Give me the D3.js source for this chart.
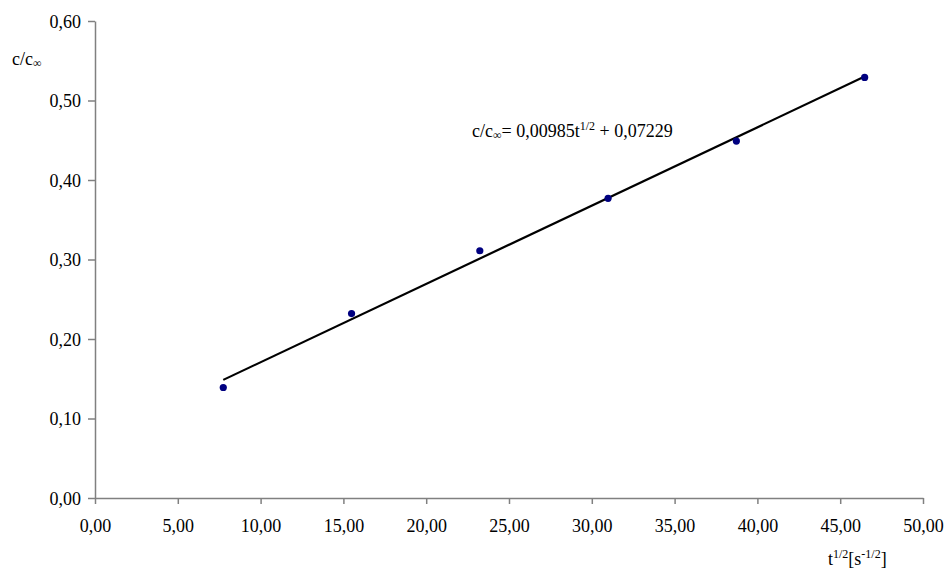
<!DOCTYPE html>
<html>
<head>
<meta charset="utf-8">
<script src="https://cdn.jsdelivr.net/npm/d3@7"></script>
</head>
<body style="margin:0; background:#fff">
<div id="chart"></div>
<script>
const width = 949
const height = 568

// sqrt(t) values and measured c/c_inf
const xValues = [7.746, 15.492, 23.238, 30.984, 38.730, 46.476]
const yValues = [0.139, 0.232, 0.311, 0.377, 0.449, 0.529]
const xTicks = [0, 5, 10, 15, 20, 25, 30, 35, 40, 45, 50]
const yTicks = [0, 0.1, 0.2, 0.3, 0.4, 0.5, 0.6]
const slope = 0.00985
const intercept = 0.07229

const margin = { top: 21, right: 25, bottom: 70, left: 95 }
const serif = '"Liberation Serif", "Times New Roman", serif'

const fmt = d => d.toFixed(2).replace('.', ',')

const svg = d3.select('#chart')
  .append('svg')
  .attr('width', width)
  .attr('height', height)
  .style('font-family', serif)

const x = d3.scaleLinear()
  .domain([0, 50])
  .range([margin.left, 923])

const y = d3.scaleLinear()
  .domain([0, 0.6])
  .range([498, margin.top])

const xAxis = svg.append('g')
  .attr('transform', `translate(0,${y(0)})`)
  .call(d3.axisBottom(x).tickValues(xTicks).tickFormat(fmt).tickSize(6).tickSizeOuter(0))

const yAxis = svg.append('g')
  .attr('transform', `translate(${x(0)},0)`)
  .call(d3.axisLeft(y).tickValues(yTicks).tickFormat(fmt).tickSize(7).tickSizeOuter(0))

// drop the axis defaults (sans-serif, 10px)
xAxis.attr('font-family', serif).attr('font-size', 18)
yAxis.attr('font-family', serif).attr('font-size', 18)
xAxis.selectAll('text').attr('dy', null).attr('y', 34)
yAxis.selectAll('text').attr('x', -14).attr('dy', '0.35em')

svg.selectAll('.domain, .tick line')
  .attr('stroke', '#808080')
  .attr('stroke-width', 1.5)

// trend line
const x0 = d3.min(xValues)
const x1 = d3.max(xValues)
svg.append('line')
  .attr('x1', x(x0))
  .attr('y1', y(slope * x0 + intercept))
  .attr('x2', x(x1))
  .attr('y2', y(slope * x1 + intercept))
  .attr('stroke', '#000')
  .attr('stroke-width', 2.2)

// points
svg.selectAll('circle')
  .data(xValues)
  .enter()
  .append('circle')
  .attr('cx', d => x(d))
  .attr('cy', (d, i) => y(yValues[i]))
  .attr('r', 3.6)
  .attr('fill', '#000080')

// y title
const yt = svg.append('text')
  .attr('x', 12)
  .attr('y', 65)
yt.append('tspan').text('c/c')
yt.append('tspan').attr('class', 'small').attr('dy', 2).text('∞')

// equation
const eq = svg.append('text')
  .attr('x', 472)
  .attr('y', 137)
eq.append('tspan').text('c/c')
eq.append('tspan').attr('class', 'small').attr('dy', 2).text('∞')
eq.append('tspan').attr('dy', -2).text('= 0,00985t')
eq.append('tspan').attr('class', 'small').attr('dy', -7).text('1/2')
eq.append('tspan').attr('dy', 7).text(' + 0,07229')

// x title
const xt = svg.append('text')
  .attr('x', 828)
  .attr('y', 565)
xt.append('tspan').text('t')
xt.append('tspan').attr('class', 'small').attr('dy', -7).text('1/2')
xt.append('tspan').attr('dy', 7).text('[s')
xt.append('tspan').attr('class', 'small').attr('dy', -7).text('-1/2')
xt.append('tspan').attr('dy', 7).text(']')

svg.selectAll('text')
  .style('font-family', serif)
  .style('font-size', '18px')
  .style('fill', '#000')
svg.selectAll('tspan.small')
  .style('font-size', '12px')
</script>
</body>
</html>
